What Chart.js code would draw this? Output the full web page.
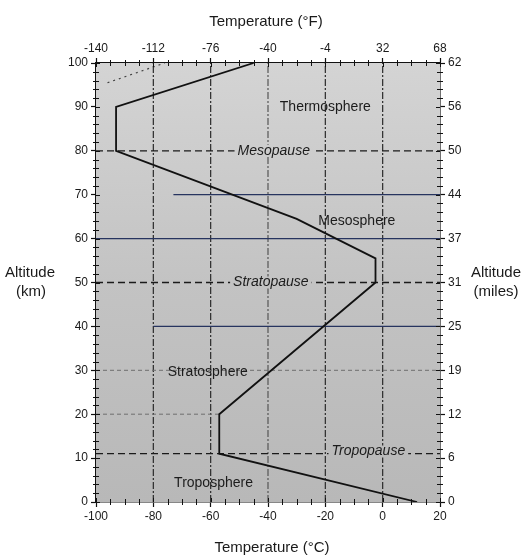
<!DOCTYPE html>
<html><head><meta charset="utf-8">
<script src="https://cdn.jsdelivr.net/npm/chart.js@4.4.1/dist/chart.umd.min.js"></script>
<style>html,body{margin:0;padding:0;background:#fff}#wrap{width:526px;height:558px;position:relative}</style>
</head><body><div id="wrap"><canvas id="c" width="526" height="558"></canvas></div>
<script>
// ---- data ----
const temperatureTicksC = [-100, -80, -60, -40, -20, 0, 20];
const temperatureTicksF = ['-140', '-112', '-76', '-40', '-4', '32', '68'];
const altitudeTicksKm = [0, 10, 20, 30, 40, 50, 60, 70, 80, 90, 100];
const altitudeTicksMiles = ['0', '6', '12', '19', '25', '31', '37', '44', '50', '56', '62'];
const profileAltitudeKm = [0, 11, 20, 50, 55.5, 64.5, 80, 90, 100];
const profileTemperatureC = [12, -57, -57, -2.5, -2.5, -30, -93, -93, -45];
const boundaryKm = [11, 50, 80];
const guideTemperatureC = [-80, -60, -40, -20, 0];
const solidLineKm = [70, 60, 40];
const solidLineStartC = [-73, -100, -80];
const faintLineKm = [30, 20];
const faintLineEndC = [20, -57];
const dottedTraceC = [-96, -76];
const dottedTraceKm = [95.5, 100];
const layerNames = ['Thermosphere', 'Mesopause', 'Mesosphere', 'Stratopause', 'Stratosphere', 'Tropopause', 'Troposphere'];
const layerAnchorC = [-20, -38, -9, -39, -61, -5, -59];
const layerAnchorKm = [90, 80, 64, 50, 29.5, 11.5, 4.3];
const layerIsBoundary = [false, true, false, true, false, true, false];

const FONT = "'Liberation Sans', Arial, sans-serif";
const X_MIN = -100, X_MAX = 20, Y_MIN = 0, Y_MAX = 100;

// ---- datasets ----
const datasets = [];
datasets.push({
  label: 'Temperature profile',
  data: profileAltitudeKm.map((km, i) => ({x: profileTemperatureC[i], y: km})),
  borderColor: '#111', borderWidth: 1.8, pointRadius: 0, tension: 0
});
boundaryKm.forEach(km => datasets.push({
  data: [{x: X_MIN, y: km}, {x: X_MAX, y: km}],
  borderColor: '#1a1a1a', borderWidth: 1.3, borderDash: [7, 4], pointRadius: 0
}));
solidLineKm.forEach((km, i) => datasets.push({
  data: [{x: solidLineStartC[i], y: km}, {x: X_MAX, y: km}],
  borderColor: '#27345f', borderWidth: 1.3, pointRadius: 0
}));
faintLineKm.forEach((km, i) => datasets.push({
  data: [{x: X_MIN, y: km}, {x: faintLineEndC[i], y: km}],
  borderColor: '#6f6f6f', borderWidth: 1, borderDash: [4, 3], pointRadius: 0
}));
guideTemperatureC.forEach(t => datasets.push({
  data: [{x: t, y: Y_MIN}, {x: t, y: Y_MAX}],
  borderColor: t === -40 ? '#555' : '#2a2a2a', borderWidth: 1.2, borderDash: [7, 2, 2, 2], pointRadius: 0
}));
datasets.push({
  data: dottedTraceC.map((t, i) => ({x: t, y: dottedTraceKm[i]})),
  borderColor: '#444', borderWidth: 1.2, borderDash: [2, 4], pointRadius: 0
});

// ---- plugins ----
let bgGradient = null;
const backgroundPlugin = {
  id: 'bgFill',
  beforeDatasetsDraw(chart) {
    const {ctx, chartArea: a} = chart;
    bgGradient = ctx.createLinearGradient(0, a.top, 0, a.bottom);
    bgGradient.addColorStop(0, '#d4d4d4');
    bgGradient.addColorStop(0.5, '#c3c3c3');
    bgGradient.addColorStop(1, '#b8b8b8');
    ctx.save();
    ctx.fillStyle = bgGradient;
    ctx.fillRect(a.left, a.top, a.right - a.left, a.bottom - a.top);
    ctx.restore();
  }
};

const labelPlugin = {
  id: 'layerLabels',
  afterDatasetsDraw(chart) {
    const {ctx} = chart;
    const xs = chart.scales.x, ys = chart.scales.y;
    ctx.save();
    ctx.textAlign = 'center';
    ctx.textBaseline = 'middle';
    layerNames.forEach((name, i) => {
      const px = xs.getPixelForValue(layerAnchorC[i]);
      const py = ys.getPixelForValue(layerAnchorKm[i]);
      ctx.font = (layerIsBoundary[i] ? 'italic ' : '') + '14px ' + FONT;
      if (layerIsBoundary[i]) {
        const w = ctx.measureText(name).width;
        ctx.fillStyle = bgGradient;
        ctx.fillRect(px - w / 2 - 3, py - 6, w + 6, 12);
      }
      ctx.fillStyle = '#1c1c1c';
      ctx.fillText(name, px, py);
    });
    ctx.restore();
  }
};

const axisDecorPlugin = {
  id: 'axisDecor',
  afterDraw(chart) {
    const {ctx, chartArea: a} = chart;
    const xs = chart.scales.x, ys = chart.scales.y;
    ctx.save();
    ctx.strokeStyle = '#111';
    ctx.lineWidth = 1;
    ctx.beginPath();
    for (let t = X_MIN; t <= X_MAX; t += 5) {
      const px = Math.round(xs.getPixelForValue(t)) + 0.5;
      const major = t % 20 === 0;
      const inward = major ? 4 : 3, outward = major ? 0 : 3;
      ctx.moveTo(px, a.bottom + outward); ctx.lineTo(px, a.bottom - inward);
      ctx.moveTo(px, a.top - outward); ctx.lineTo(px, a.top + inward);
    }
    for (let km = Y_MIN; km <= Y_MAX; km += 2) {
      const py = Math.round(ys.getPixelForValue(km)) + 0.5;
      const major = km % 10 === 0;
      const inward = major ? 4 : 3, outward = major ? 0 : 3;
      ctx.moveTo(a.left - outward, py); ctx.lineTo(a.left + inward, py);
      ctx.moveTo(a.right + outward, py); ctx.lineTo(a.right - inward, py);
    }
    ctx.stroke();

    ctx.fillStyle = '#1a1a1a';
    ctx.textAlign = 'center';
    ctx.textBaseline = 'middle';
    ctx.font = '15px ' + FONT;
    ctx.fillText('Temperature (°F)', 266, 22);
    ctx.fillText('Temperature (°C)', 272, 548);
    ctx.fillText('Altitude', 30, 273);
    ctx.fillText('(km)', 31, 292);
    ctx.fillText('Altitude', 496, 273);
    ctx.fillText('(miles)', 496, 292);
    ctx.restore();
  }
};

const tickFont = {family: FONT, size: 12};
const axisGrid = {display: true, drawOnChartArea: false, drawTicks: true, tickLength: 5, color: '#111', tickColor: '#111', tickWidth: 1.2};
const axisBorder = {display: true, color: '#111', width: 1.6};

new Chart(document.getElementById('c'), {
  type: 'line',
  data: {datasets},
  options: {
    responsive: false,
    devicePixelRatio: 1,
    animation: false,
    parsing: true,
    layout: {padding: 0},
    plugins: {legend: {display: false}, tooltip: {enabled: false}, title: {display: false}},
    elements: {line: {fill: false}},
    scales: {
      x: {
        type: 'linear', position: 'bottom', min: X_MIN, max: X_MAX,
        afterBuildTicks: s => { s.ticks = temperatureTicksC.map(v => ({value: v})); },
        afterFit: s => { s.height = 56; },
        ticks: {font: tickFont, color: '#1a1a1a', padding: 2, autoSkip: false, maxRotation: 0,
          callback: v => String(v)},
        grid: axisGrid, border: axisBorder
      },
      x2: {
        type: 'linear', position: 'top', min: X_MIN, max: X_MAX,
        afterBuildTicks: s => { s.ticks = temperatureTicksC.map(v => ({value: v})); },
        afterFit: s => { s.height = 63; },
        ticks: {font: tickFont, color: '#1a1a1a', padding: 2, autoSkip: false, maxRotation: 0,
          callback: (v, i) => temperatureTicksF[i]},
        grid: axisGrid, border: axisBorder
      },
      y: {
        type: 'linear', position: 'left', min: Y_MIN, max: Y_MAX,
        afterBuildTicks: s => { s.ticks = altitudeTicksKm.map(v => ({value: v})); },
        afterFit: s => { s.width = 96; },
        ticks: {font: tickFont, color: '#1a1a1a', padding: 3, autoSkip: false, callback: v => String(v)},
        grid: axisGrid, border: axisBorder
      },
      y2: {
        type: 'linear', position: 'right', min: Y_MIN, max: Y_MAX,
        afterBuildTicks: s => { s.ticks = altitudeTicksKm.map(v => ({value: v})); },
        afterFit: s => { s.width = 86; },
        ticks: {font: tickFont, color: '#1a1a1a', padding: 3, autoSkip: false,
          callback: (v, i) => altitudeTicksMiles[i]},
        grid: axisGrid, border: axisBorder
      }
    }
  },
  plugins: [backgroundPlugin, labelPlugin, axisDecorPlugin]
});
</script></body></html>
